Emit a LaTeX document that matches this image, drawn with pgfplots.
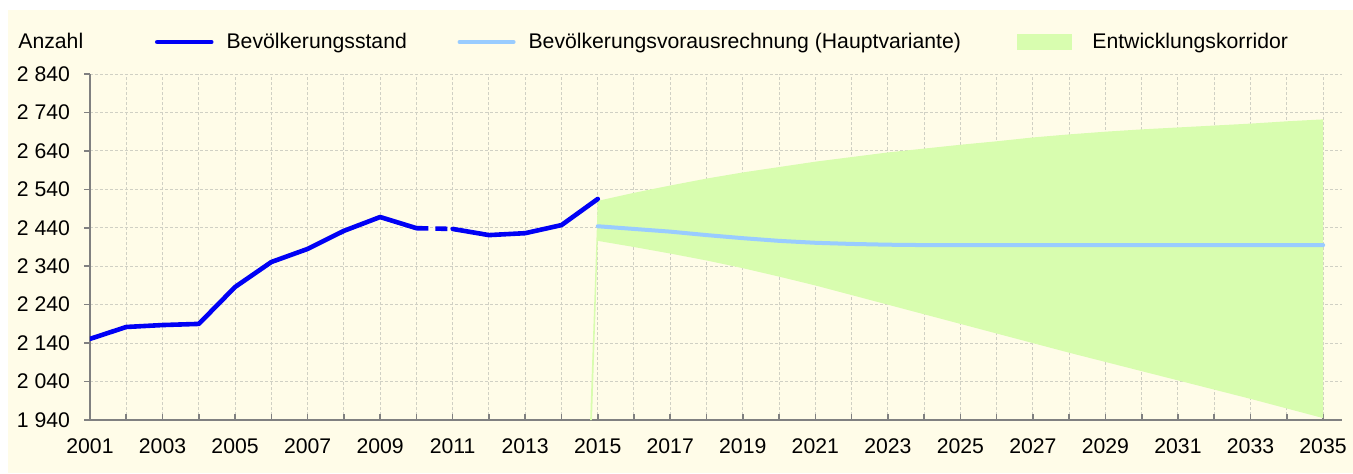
\documentclass[border=0pt]{standalone}
\usepackage{fontspec}
\setmainfont{Liberation Sans}
\usepackage{pgfplots}
\pgfplotsset{compat=1.18}
\definecolor{bgcream}{RGB}{255,252,232}
\definecolor{corr}{RGB}{216,253,175}
\definecolor{proj}{RGB}{153,204,255}
\definecolor{stand}{RGB}{0,0,245}
\definecolor{axgray}{RGB}{128,128,128}
\definecolor{gridc}{RGB}{208,208,196}
\pgfplotsset{
  linelegend/.style={legend image code/.code={\draw[##1, line cap=round] (0pt,0pt) -- (27pt,0pt);}},
  arealegend/.style={legend image code/.code={\fill[corr] (0pt,-3.75pt) rectangle (27pt,3.75pt);}},
}

\begin{document}
\begin{tikzpicture}[font=\fontsize{10.6}{12}\selectfont]
\fill[white] (-45pt,-26.5pt) rectangle (631.5pt,210pt);
\fill[bgcream] (-41pt,-26.5pt) rectangle (631.5pt,205pt);
\begin{axis}[
  at={(0,0)}, anchor=south west, scale only axis,
  width=626pt, height=173pt,
  xmin=2001, xmax=2035.52, ymin=1940, ymax=2840,
  axis x line=bottom, axis y line=left,
  axis line style={draw=axgray, line width=0.9pt, -},
  xtick={2001,...,2035},
  xticklabels={2001,,2003,,2005,,2007,,2009,,2011,,2013,,2015,,2017,,2019,,2021,,2023,,2025,,2027,,2029,,2031,,2033,,2035},
  ytick={1940,2040,...,2840},
  yticklabels={1 940,2 040,2 140,2 240,2 340,2 440,2 540,2 640,2 740,2 840},
  xtick align=inside, ytick align=outside,
  major tick length=3pt,
  tick style={draw=axgray, line width=0.8pt},
  x tick label style={yshift=-6pt},
  y tick label style={xshift=-3.5pt},
  /pgf/number format/assume math mode=true,
  grid=major,
  major grid style={draw=gridc, line width=0.5pt, dash pattern=on 1.5pt off 1pt},
  legend columns=3,
  legend cell align=left,
  legend style={at={(axis description cs:0.0519,1.0925)}, anchor=west,
    draw=none, fill=none, inner sep=0pt, outer sep=0pt,
    nodes={inner sep=0pt},
    /tikz/every odd column/.append style={column sep=6.5pt}},
  clip=true,
]
\addlegendimage{stand, line width=2.3pt, linelegend}
\addlegendentry{\makebox[115.5pt][l]{Bevölkerungsstand}}
\addlegendimage{proj, line width=2pt, linelegend}
\addlegendentry{\makebox[244pt][l]{Bevölkerungsvorausrechnung (Hauptvariante)}}
\addlegendimage{arealegend}
\addlegendentry{\hspace{4pt}Entwicklungskorridor}

% Entwicklungskorridor (upper 2015->2035, lower 2035->2015)
\addplot[forget plot, fill=corr, draw=none] coordinates {
 (2015,2510) (2016,2531) (2017,2550) (2018,2568) (2019,2584) (2020,2598)
 (2021,2612) (2022,2624) (2023,2636) (2024,2646) (2025,2656) (2026,2665)
 (2027,2675) (2028,2683) (2029,2690) (2030,2696) (2031,2701) (2032,2706)
 (2033,2711) (2034,2717) (2035,2722)
 (2035,1945) (2034,1970) (2033,1995) (2032,2019) (2031,2043) (2030,2067)
 (2029,2091) (2028,2115) (2027,2140) (2026,2165) (2025,2190) (2024,2215)
 (2023,2240) (2022,2265) (2021,2290) (2020,2313) (2019,2335) (2018,2355)
 (2017,2373) (2016,2390) (2015,2406) (2014.84,1940) (2014.79,1940)
};

% Vorausrechnung
\addplot[forget plot, proj, line width=2pt, line cap=round, line join=round] coordinates {
 (2015,2444) (2016,2437) (2017,2430) (2018,2421) (2019,2413) (2020,2406)
 (2021,2401) (2022,2398) (2023,2396) (2024,2395) (2025,2395) (2026,2395)
 (2027,2395) (2028,2395) (2029,2395) (2030,2395) (2031,2395) (2032,2395)
 (2033,2395) (2034,2395) (2035,2395)
};

% Bevoelkerungsstand
\addplot[forget plot, stand, line width=2.3pt, line cap=round, line join=round] coordinates {
 (2001,2151) (2002,2182) (2003,2187) (2004,2190) (2005,2286) (2006,2351)
 (2007,2385) (2008,2432) (2009,2468) (2010,2439)
};
\addplot[forget plot, stand, line width=2.3pt, line cap=butt, dash pattern=on 6pt off 3.5pt] coordinates {
 (2010,2439) (2011,2437)
};
\addplot[forget plot, stand, line width=2.3pt, line cap=round, line join=round] coordinates {
 (2011,2437) (2012,2421) (2013,2426) (2014,2447) (2015,2515)
};
\end{axis}
\node[anchor=west, inner sep=0pt] at (-36pt,189.5pt) {Anzahl};
\pgfresetboundingbox
\useasboundingbox (-45pt,-26.5pt) rectangle (631.5pt,210pt);
\end{tikzpicture}
\end{document}
